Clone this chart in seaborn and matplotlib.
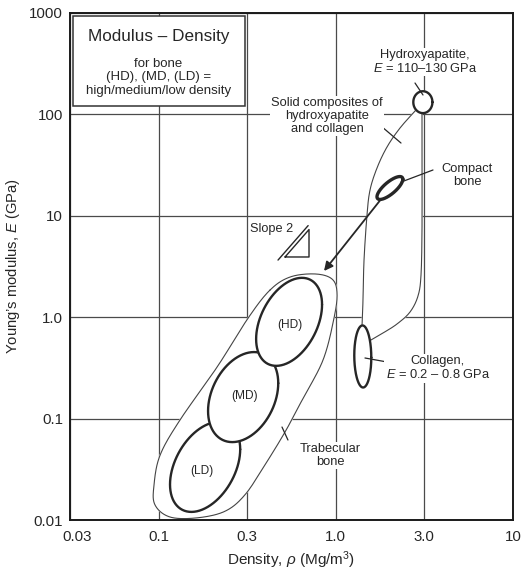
import numpy as np
import matplotlib
matplotlib.use("Agg")
import matplotlib.pyplot as plt
import seaborn as sns
from matplotlib.patches import Rectangle
import matplotlib.transforms as mtrans

# ---------------- data ----------------
x_tick_labels = ["0.03", "0.1", "0.3", "1.0", "3.0", "10"]
x_tick_decades = [-1.5, -1.0, -0.5, 0.0, 0.5, 1.0]
y_tick_labels = ["0.01", "0.1", "1.0", "10", "100", "1000"]
y_tick_decades = [-2, -1, 0, 1, 2, 3]

# property bubbles: centre density (Mg/m3), centre modulus (GPa),
# half-range in decades of density / modulus, tilt phase (deg)
ell_names = ["LD", "MD", "HD", "Collagen", "Hydroxyapatite", "Compact bone"]
ell_rho = [0.183, 0.300, 0.545, 1.42, 3.10, 2.02]
ell_E = [0.0334, 0.163, 0.90, 0.41, 132.0, 18.8]
ell_span_rho = [0.198, 0.198, 0.186, 0.048, 0.054, 0.073]
ell_span_E = [0.444, 0.444, 0.434, 0.306, 0.108, 0.113]
ell_tilt = [67, 72, 67, 92, 90, 40]

# trabecular bone envelope (closed)
trab_rho = [0.425, 0.552, 0.763, 0.952, 1.016, 0.977, 0.847, 0.645, 0.517, 0.398,
            0.307, 0.237, 0.165, 0.116, 0.0954, 0.0942, 0.102, 0.132, 0.214, 0.320]
trab_E = [1.85, 2.49, 2.67, 2.38, 1.73, 0.98, 0.378, 0.152, 0.0738, 0.0349,
          0.0177, 0.0122, 0.0105, 0.0107, 0.0141, 0.0221, 0.0437, 0.0968, 0.323, 0.98]

# solid composites envelope: left edge (HA -> collagen), right edge (collagen -> HA)
comp_left_rho = [2.835, 2.303, 1.945, 1.708, 1.560, 1.500, 1.443, 1.424, 1.406]
comp_left_E = [110.5, 73.4, 47.7, 29.6, 17.96, 10.2, 3.66, 1.478, 0.819]
comp_right_rho = [1.580, 1.846, 2.215, 2.623, 2.910, 3.026, 3.065, 3.065, 3.065]
comp_right_E = [0.596, 0.698, 0.857, 1.125, 1.619, 2.607, 7.24, 28.3, 105.6]

# slope-2 guide
slope_rho = [0.517, 0.706]
slope_E0 = 3.925
guide_rho = [0.472, 0.698]
guide_E0 = 3.66

# arrow from compact bone to trabecular bone
arrow_to = (0.858, 2.855)

# leader lines (rho0, E0, rho1, E1)
leaders = [
    (2.799, 204.0, 3.105, 155.4),
    (1.799, 76.8, 2.333, 52.2),
    (3.536, 28.3, 2.333, 21.5),
    (1.461, 0.396, 2.102, 0.353),
    (0.497, 0.0826, 0.537, 0.0615),
]

labels = [
    ("Hydroxyapatite,\n$\\mathit{E}$ = 110–130 GPa", 3.187, 329.0),
    ("Solid composites of\nhydroxyapatite\nand collagen", 0.892, 96.4),
    ("Compact\nbone", 5.50, 24.97),
    ("Collagen,\n$\\mathit{E}$ = 0.2 – 0.8 GPa", 3.773, 0.312),
    ("Trabecular\nbone", 0.927, 0.0433),
]
bubble_labels = [("(HD)", 0.551, 0.838), ("(MD)", 0.307, 0.167), ("(LD)", 0.1758, 0.0304)]

# ---------------- style ----------------
sns.set_theme(style="white")
plt.rcParams["font.family"] = ["Liberation Sans", "DejaVu Sans"]
plt.rcParams["mathtext.fontset"] = "custom"
plt.rcParams["mathtext.rm"] = "Liberation Sans"
plt.rcParams["mathtext.it"] = "Liberation Sans:italic"
plt.rcParams["mathtext.default"] = "regular"
TXT = "#262626"

fig = plt.figure(figsize=(5.23, 5.71), dpi=100)
ax = fig.add_axes([70 / 523, 1 - 520 / 571, 443 / 523, 507 / 571])
ax.set_xscale("log")
ax.set_yscale("log")
ax.set_xlim(10 ** -1.5, 10 ** 1.0)
ax.set_ylim(10 ** -2, 10 ** 3)


def ellipse_pts(r, e, sr, se, tilt, n=240):
    t = np.linspace(0, 2 * np.pi, n + 1)
    lx = np.log10(r) + sr * np.cos(t)
    ly = np.log10(e) + se * np.cos(t - np.radians(tilt))
    return 10 ** lx, 10 ** ly


def catmull(xs, ys, closed=True, n=16):
    P = np.column_stack([np.log10(xs), np.log10(ys)])
    if not closed:
        P = np.vstack([P[:1], P, P[-1:]])
    N = len(P)
    out = []
    rng = range(N) if closed else range(1, N - 2)
    for i in rng:
        p0, p1, p2, p3 = P[i - 1], P[i], P[(i + 1) % N], P[(i + 2) % N]
        t = np.linspace(0, 1, n, endpoint=False)[:, None]
        out.append(0.5 * (2 * p1 + (-p0 + p2) * t
                          + (2 * p0 - 5 * p1 + 4 * p2 - p3) * t ** 2
                          + (-p0 + 3 * p1 - 3 * p2 + p3) * t ** 3))
    out.append(P[:1] if closed else P[-2:-1])
    out = np.vstack(out)
    return 10 ** out[:, 0], 10 ** out[:, 1]


def outline(x, y, lw, z, color=TXT):
    sns.lineplot(x=x, y=y, sort=False, estimator=None, ax=ax, color=color,
                 lw=lw, zorder=z)


# grid
ax.grid(True, color="#4a4a4a", lw=0.9)
ax.set_axisbelow(True)

# trabecular envelope
tx, ty = catmull(trab_rho, trab_E, closed=True)
ax.fill(tx, ty, color="white", zorder=2)
outline(tx, ty, 0.8, 2.1, "#444444")

# composites envelope
lx, ly = catmull(comp_left_rho, comp_left_E, closed=False)
rx, ry = catmull(comp_right_rho, comp_right_E, closed=False)
ax.fill(np.concatenate([lx, rx]), np.concatenate([ly, ry]), color="white", zorder=2)
outline(lx, ly, 0.8, 2.1, "#444444")
outline(rx, ry, 0.8, 2.1, "#444444")

# arrow (under bubbles)
ax.annotate("", xy=arrow_to, xytext=(ell_rho[5], ell_E[5]),
            arrowprops=dict(arrowstyle="-|>", color=TXT, lw=1.3,
                            mutation_scale=13, shrinkA=0, shrinkB=0),
            zorder=2.5)

# bubbles
for i in range(len(ell_names)):
    ex, ey = ellipse_pts(ell_rho[i], ell_E[i], ell_span_rho[i], ell_span_E[i], ell_tilt[i])
    ax.fill(ex, ey, color="white", zorder=3 + i * 0.1)
    lw = 2.4 if ell_names[i] == "Compact bone" else 1.7
    outline(ex, ey, lw, 3.05 + i * 0.1)

# leaders
for r0, e0, r1, e1 in leaders:
    outline([r0, r1], [e0, e1], 0.9, 3.8)

# slope triangle
se1 = slope_E0 * (slope_rho[1] / slope_rho[0]) ** 2
outline([slope_rho[0], slope_rho[1], slope_rho[1], slope_rho[0]],
        [slope_E0, slope_E0, se1, slope_E0], 1.0, 3.8)
ge1 = guide_E0 * (guide_rho[1] / guide_rho[0]) ** 2
outline(guide_rho, [guide_E0, ge1], 1.0, 3.8)
ax.text(0.4365, 7.41, "Slope 2", ha="center", va="center", fontsize=9.2,
        color=TXT, zorder=5)

# labels
for s, x, y in labels:
    ax.text(x, y, s, ha="center", va="center", fontsize=9.3, color=TXT,
            linespacing=1.1, zorder=5,
            bbox=dict(facecolor="white", edgecolor="none", pad=1.0))
for s, x, y in bubble_labels:
    ax.text(x, y, s, ha="center", va="center", fontsize=8.6, color=TXT, zorder=5)

# title box
ax.add_patch(Rectangle((0.007, 0.817), 0.388, 0.177, transform=ax.transAxes,
                       facecolor="white", edgecolor="#333333", lw=1.1, zorder=4))
ax.text(0.2, 0.953, "Modulus – Density", transform=ax.transAxes, ha="center",
        va="center", fontsize=12.3, color=TXT, zorder=5)
ax.text(0.2, 0.873, "for bone\n(HD), (MD, (LD) =\nhigh/medium/low density",
        transform=ax.transAxes, ha="center", va="center", fontsize=9.5,
        color=TXT, linespacing=1.18, zorder=5)

# axes
ax.set_xticks([10 ** d for d in x_tick_decades])
ax.set_xticklabels(x_tick_labels)
ax.set_yticks([10 ** d for d in y_tick_decades])
ax.set_yticklabels(y_tick_labels)
ax.minorticks_off()
ax.tick_params(length=0, labelsize=10.8, colors=TXT)
ax.tick_params(axis="x", pad=7)
ax.tick_params(axis="y", pad=5)
ax.xaxis.get_ticklabels()[0].set_transform(
    ax.xaxis.get_ticklabels()[0].get_transform()
    + mtrans.ScaledTranslation(7 / 100, 0, fig.dpi_scale_trans))
for sp in ax.spines.values():
    sp.set_color("#1a1a1a")
    sp.set_linewidth(1.4)
ax.set_xlabel("Density, $\\mathit{\\rho}$ (Mg/m$^3$)", fontsize=11, color=TXT)
ax.set_ylabel("Young’s modulus, $\\mathit{E}$ (GPa)", fontsize=10.6, color=TXT)
ax.xaxis.set_label_coords(0.5, -0.058)
ax.yaxis.set_label_coords(-0.108, 0.5)

fig.savefig("out.png", dpi=100, facecolor="white")
